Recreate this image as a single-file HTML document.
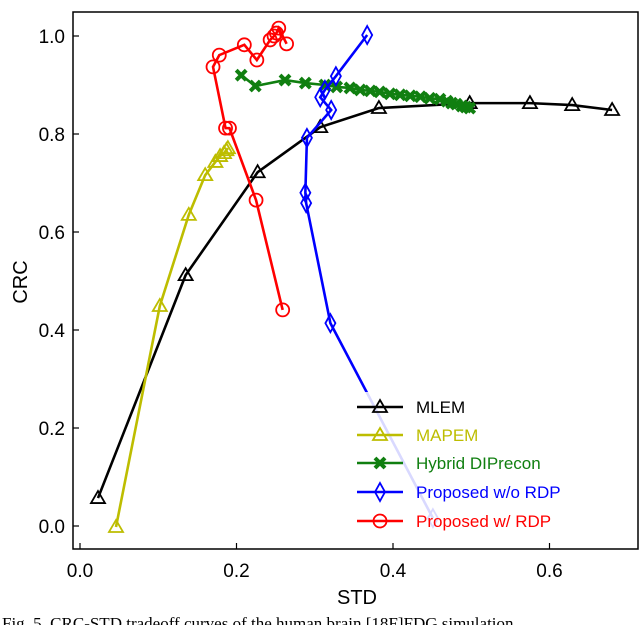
<!DOCTYPE html>
<html><head><meta charset="utf-8"><style>
body{margin:0;background:#fff;width:640px;height:625px;overflow:hidden}
text{font-family:"Liberation Sans",Arial,sans-serif}
text.cap{font-family:"Liberation Serif",serif}
</style></head><body>
<svg id="chart" width="640" height="625" viewBox="0 0 640 625" xmlns="http://www.w3.org/2000/svg"></svg>
<script>
const xTicks=[0.0,0.2,0.4,0.6];
const yTicks=[0.0,0.2,0.4,0.6,0.8,1.0];
const seriesNames=["MLEM","MAPEM","Hybrid DIPrecon","Proposed w/o RDP","Proposed w/ RDP"];
const mlemX=[0.023,0.135,0.227,0.307,0.382,0.498,0.575,0.629,0.680];
const mlemY=[0.057,0.512,0.722,0.814,0.853,0.863,0.863,0.859,0.849];
const mapemX=[0.046,0.102,0.139,0.160,0.173,0.179,0.184,0.187,0.189];
const mapemY=[-0.002,0.449,0.635,0.716,0.743,0.755,0.761,0.767,0.771];
const hybridX=[0.206,0.224,0.262,0.288,0.313,0.328,0.345,0.358,0.371,0.383,0.396,0.409,0.422,0.435,0.447,0.460,0.469,0.475,0.481,0.488,0.493,0.498];
const hybridY=[0.920,0.898,0.910,0.904,0.900,0.896,0.894,0.890,0.888,0.886,0.882,0.880,0.878,0.876,0.873,0.871,0.867,0.863,0.861,0.857,0.855,0.853];
const blueX=[0.451,0.320,0.289,0.288,0.290,0.321,0.307,0.313,0.327,0.367];
const blueY=[0.016,0.414,0.659,0.680,0.792,0.849,0.875,0.890,0.918,1.002];
const redX=[0.259,0.225,0.191,0.186,0.170,0.178,0.210,0.226,0.243,0.248,0.251,0.254,0.264];
const redY=[0.441,0.665,0.812,0.812,0.937,0.961,0.982,0.951,0.992,1.000,1.006,1.016,0.984];
const svg=document.getElementById('chart');
const NS="http://www.w3.org/2000/svg";
const L=73,R=638,T=12,B=549;
function sx(v){return 80+v*782.5;}
function sy(v){return 526-v*490;}
function mk(tag,attrs,parent){const e=document.createElementNS(NS,tag);for(const k in attrs)e.setAttribute(k,attrs[k]);(parent||svg).appendChild(e);return e;}
const frame=mk('rect',{x:L,y:T,width:R-L,height:B-T,fill:'none',stroke:'#000','stroke-width':1.5});


xTicks.forEach(t=>{
  const l=mk('line',{x1:sx(t),x2:sx(t),y1:B,y2:B-6,stroke:'#000','stroke-width':1.2});
  
  
  const tx=mk('text',{x:sx(t),y:B+28,'text-anchor':'middle','font-size':19});tx.textContent=t.toFixed(1);
  
  
});
yTicks.forEach(t=>{
  const l=mk('line',{x1:L,x2:L+6,y1:sy(t),y2:sy(t),stroke:'#000','stroke-width':1.2});
  
  
  const tx=mk('text',{x:L-8,y:sy(t)+7,'text-anchor':'end','font-size':19});tx.textContent=t.toFixed(1);
  
  
});
const xl=mk('text',{x:357,y:604,'text-anchor':'middle','font-size':20});xl.textContent='STD';


const yl=mk('text',{x:0,y:0,'text-anchor':'middle','font-size':20,transform:'translate(27,282) rotate(-90)'});yl.textContent='CRC';


const cap=mk('text',{x:2,y:629,'font-size':17,'class':'cap'});cap.textContent='Fig. 5.  CRC-STD tradeoff curves of the human brain [18F]FDG simulation';


function marker(type,cx,cy,color,g){
  if(type==='tri')return mk('path',{d:`M${cx},${cy-7}L${cx+7},${cy+5}L${cx-7},${cy+5}Z`,fill:'none',stroke:color,'stroke-width':1.8},g);
  if(type==='dia')return mk('path',{d:`M${cx},${cy-9}L${cx+5},${cy}L${cx},${cy+9}L${cx-5},${cy}Z`,fill:'none',stroke:color,'stroke-width':1.8},g);
  if(type==='circ')return mk('circle',{cx,cy,r:6.5,fill:'none',stroke:color,'stroke-width':1.8},g);
  const s=5;
  return mk('path',{d:`M${cx-s},${cy-s}L${cx+s},${cy+s}M${cx+s},${cy-s}L${cx-s},${cy+s}`,fill:'none',stroke:color,'stroke-width':4},g);
}
const specs=[[mlemX,mlemY,'#000','tri','mlem'],[mapemX,mapemY,'#bdbd00','tri','mapem'],[hybridX,hybridY,'#107f10','x','hybrid-diprecon'],[blueX,blueY,'#0000ff','dia','proposed-wo-rdp'],[redX,redY,'#ff0000','circ','proposed-w-rdp']];
specs.forEach(([xs,ys,c,m,n])=>{
  const g=mk('g',{});
  
  
  const p=mk('polyline',{points:xs.map((x,i)=>sx(x)+','+sy(ys[i])).join(' '),fill:'none',stroke:c,'stroke-width':2.6},g);
  
  
  xs.forEach((x,i)=>{const e=marker(m,sx(x),sy(ys[i]),c,g);
    
    });
});
const lg=mk('g',{});


mk('rect',{x:350,y:392,width:250,height:142,fill:'#fff','fill-opacity':0.85},lg);
const ly=[407,435,463,492,521];
specs.forEach(([xs,ys,c,m,n],i)=>{
  const g=mk('g',{},lg);
  
  
  mk('line',{x1:357,x2:403,y1:ly[i],y2:ly[i],stroke:c,'stroke-width':2.6},g);
  marker(m,380,ly[i],c,g);
  const t=mk('text',{x:416,y:ly[i]+6,'font-size':17,fill:c},g);t.textContent=seriesNames[i];
});
</script>
</body></html>
